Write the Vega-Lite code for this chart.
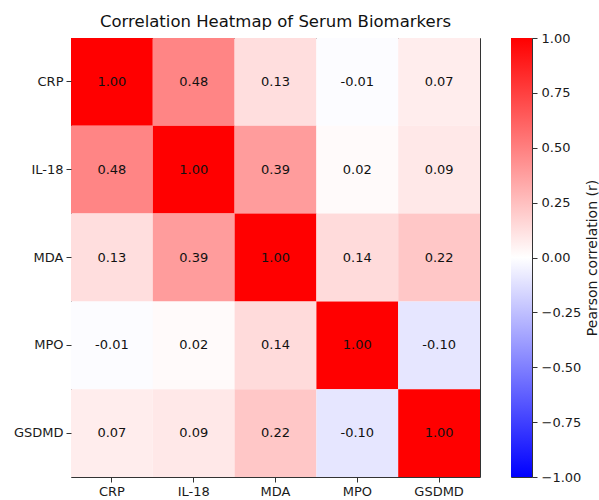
{
  "$schema": "https://vega.github.io/schema/vega-lite/v6.json",
  "background": "white",
  "padding": {"left": 12, "top": 13, "right": 2, "bottom": 5},
  "spacing": 29,
  "config": {
    "font": "DejaVu Sans",
    "view": {"stroke": "#333333", "strokeWidth": 1},
    "axis": {"labelColor": "#1a1a1a", "labelFontSize": 13, "tickColor": "#333333", "tickSize": 5, "domain": false, "grid": false, "titleColor": "#1a1a1a", "titleFontWeight": "normal"}
  },
  "datasets": {
    "corr": [
      {"row": "CRP", "col": "CRP", "r": 1.00},
      {"row": "CRP", "col": "IL-18", "r": 0.48},
      {"row": "CRP", "col": "MDA", "r": 0.13},
      {"row": "CRP", "col": "MPO", "r": -0.01},
      {"row": "CRP", "col": "GSDMD", "r": 0.07},
      {"row": "IL-18", "col": "CRP", "r": 0.48},
      {"row": "IL-18", "col": "IL-18", "r": 1.00},
      {"row": "IL-18", "col": "MDA", "r": 0.39},
      {"row": "IL-18", "col": "MPO", "r": 0.02},
      {"row": "IL-18", "col": "GSDMD", "r": 0.09},
      {"row": "MDA", "col": "CRP", "r": 0.13},
      {"row": "MDA", "col": "IL-18", "r": 0.39},
      {"row": "MDA", "col": "MDA", "r": 1.00},
      {"row": "MDA", "col": "MPO", "r": 0.14},
      {"row": "MDA", "col": "GSDMD", "r": 0.22},
      {"row": "MPO", "col": "CRP", "r": -0.01},
      {"row": "MPO", "col": "IL-18", "r": 0.02},
      {"row": "MPO", "col": "MDA", "r": 0.14},
      {"row": "MPO", "col": "MPO", "r": 1.00},
      {"row": "MPO", "col": "GSDMD", "r": -0.10},
      {"row": "GSDMD", "col": "CRP", "r": 0.07},
      {"row": "GSDMD", "col": "IL-18", "r": 0.09},
      {"row": "GSDMD", "col": "MDA", "r": 0.22},
      {"row": "GSDMD", "col": "MPO", "r": -0.10},
      {"row": "GSDMD", "col": "GSDMD", "r": 1.00}
    ],
    "bar": [{"lo": -1, "hi": 1}]
  },
  "hconcat": [
    {
      "title": {"text": "Correlation Heatmap of Serum Biomarkers", "fontSize": 16.5, "fontWeight": "normal", "color": "#111111", "anchor": "middle", "offset": 8},
      "width": 409,
      "height": 439,
      "data": {"name": "corr"},
      "transform": [{"calculate": "replace(format(datum.r, '.2f'), '−', '-')", "as": "label"}],
      "encoding": {
        "x": {"field": "col", "type": "nominal", "sort": ["CRP", "IL-18", "MDA", "MPO", "GSDMD"], "axis": {"orient": "bottom", "labelAngle": 0, "title": null, "labelPadding": 3}},
        "y": {"field": "row", "type": "nominal", "sort": ["CRP", "IL-18", "MDA", "MPO", "GSDMD"], "axis": {"title": null, "labelPadding": 3}}
      },
      "layer": [
        {
          "mark": {"type": "rect"},
          "encoding": {
            "color": {"field": "r", "type": "quantitative", "scale": {"domain": [-1, 0, 1], "range": ["#0000ff", "#ffffff", "#ff0000"], "interpolate": "rgb"}, "legend": null}
          }
        },
        {
          "mark": {"type": "text", "fontSize": 13, "color": "#111111"},
          "encoding": {"text": {"field": "label", "type": "nominal"}}
        }
      ]
    },
    {
      "width": 21,
      "height": 439,
      "data": {"name": "bar"},
      "mark": {"type": "rect", "color": {"gradient": "linear", "x1": 0, "y1": 1, "x2": 0, "y2": 0, "stops": [{"offset": 0, "color": "#0000ff"}, {"offset": 0.5, "color": "#ffffff"}, {"offset": 1, "color": "#ff0000"}]}},
      "encoding": {
        "y": {"field": "lo", "type": "quantitative", "scale": {"domain": [-1, 1], "nice": false, "zero": false}, "axis": {"orient": "right", "values": [-1, -0.75, -0.5, -0.25, 0, 0.25, 0.5, 0.75, 1], "format": ".2f", "title": "Pearson correlation (r)", "titleAngle": 270, "titleBaseline": "top", "titleFontSize": 14, "titlePadding": 5, "labelPadding": 4}},
        "y2": {"field": "hi"}
      }
    }
  ]
}
